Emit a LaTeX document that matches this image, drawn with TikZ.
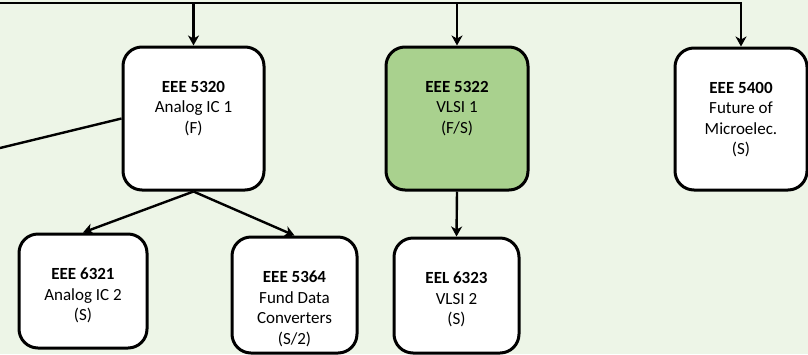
\documentclass[tikz,border=0pt]{standalone}
\usepackage{fontspec}
\setmainfont{Carlito}
\usetikzlibrary{arrows.meta}
\definecolor{bgpanel}{HTML}{EDF5E7}
\definecolor{corefill}{HTML}{A9D18E}
\tikzset{
  course/.style={draw=black, line width=3pt, fill=white, rounded corners=19pt, inner sep=0pt},
  corecourse/.style={course, fill=corefill},
  lbl/.style={anchor=north, inner sep=0pt, align=center, font=\fontsize{17}{20.5}\selectfont, yshift=-35.5pt},
  link/.style={line width=2.4pt, draw=black},
  arr/.style={link, -{Stealth[length=10pt, width=11pt, inset=3pt]}}
}
\begin{document}
\begin{tikzpicture}[x=1pt, y=-1pt]
  \useasboundingbox (0,0) rectangle (808,354);
  \fill[bgpanel] (0,0) rectangle (808,354);

  % upper row
  \node[course, minimum width=141pt, minimum height=143pt] (a) at (193.5,118.5) {};
  \node[corecourse, minimum width=142pt, minimum height=143pt] (b) at (457,118.5) {};
  \node[course, minimum width=132pt, minimum height=142pt] (c) at (741,119) {};
  % lower row
  \node[course, minimum width=128pt, minimum height=114pt] (d) at (83,291) {};
  \node[course, minimum width=125pt, minimum height=116pt] (e) at (294.5,295) {};
  \node[course, minimum width=125pt, minimum height=115pt] (f) at (456.5,295.5) {};

  \node[lbl] (ta) at (a.north) {\textbf{EEE 5320}\\Analog IC 1\\(F)};
  \node[lbl] (tb) at (b.north) {\textbf{EEE 5322}\\VLSI 1\\(F/S)};
  \node[lbl] (tc) at (c.north) {\textbf{EEE 5400}\\Future of\\Microelec.\\(S)};
  \node[lbl] (td) at (d.north) {\textbf{EEE 6321}\\Analog IC 2\\(S)};
  \node[lbl] (te) at (e.north) {\textbf{EEE 5364}\\Fund Data\\Converters\\(S/2)};
  \node[lbl] (tf) at (f.north) {\textbf{EEL 6323}\\VLSI 2\\(S)};

  % feeder bus along the top edge
  \coordinate (busl) at (0,3);
  \coordinate (lin) at (0,148);
  \draw[arr] (busl) -| (c.north);
  \draw[arr] (a.north |- busl) -- (a.north);
  \draw[arr] (b.north |- busl) -- (b.north);

  % incoming link from the left
  \draw[link] (lin) -- (a.west);

  % prerequisites
  \draw[arr] (a.south) -- (d.north);
  \draw[arr] (a.south) -- (e.north);
  \draw[arr] (b.south) -- (f.north);
\end{tikzpicture}
\end{document}
